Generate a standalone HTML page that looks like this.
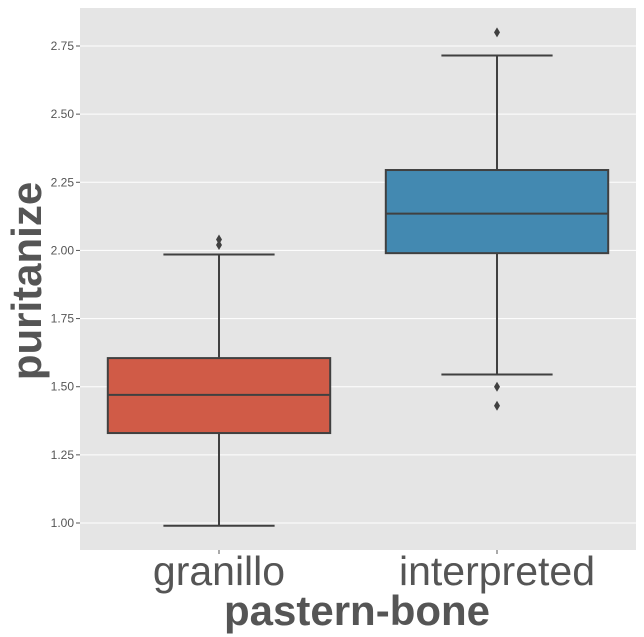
<!DOCTYPE html>
<html><head><meta charset="utf-8"><style>
html,body{margin:0;padding:0;background:#fff;}
svg{display:block;font-family:"Liberation Sans",sans-serif;}
</style></head><body>
<svg id="chart" width="644" height="637">
<rect x="80" y="8" width="556" height="542" fill="#e5e5e5"/>
<g id="grid"></g><g id="marks"></g><g id="axes"></g>
<text x="357" y="625" text-anchor="middle" font-size="42" font-weight="bold" fill="#555">pastern-bone</text>
<text transform="translate(41,281) rotate(-90)" text-anchor="middle" font-size="42" font-weight="bold" fill="#555">puritanize</text>
</svg>
<script>
const categories = ["granillo", "interpreted"];
const q1 = [1.33, 1.99];
const medians = [1.47, 2.135];
const q3 = [1.605, 2.295];
const whiskLow = [0.99, 1.545];
const whiskHigh = [1.985, 2.715];
const outliers = [[2.02, 2.04], [2.80, 1.50, 1.43]];
const colors = ["#d05b47", "#4389b1"];
const yTicks = [1.00, 1.25, 1.50, 1.75, 2.00, 2.25, 2.50, 2.75];

const NS = "http://www.w3.org/2000/svg";
const plotL = 80, plotR = 636;
function y(v){ return 523 - (v - 1.0) * (477 / 1.75); }
const band = (plotR - plotL) / categories.length;
function xc(i){ return plotL + band * (i + 0.5); }
function mk(tag, attrs, parent){
  const e = document.createElementNS(NS, tag);
  for (const k in attrs) e.setAttribute(k, attrs[k]);
  parent.appendChild(e); return e;
}
const grid = document.getElementById("grid"), marks = document.getElementById("marks"), axes = document.getElementById("axes");
yTicks.forEach(t => {
  const gl = mk("line", {x1: plotL, x2: plotR, y1: y(t), y2: y(t), stroke: "#fff", "stroke-width": 1}, grid);
  
  
  const tk = mk("line", {x1: plotL - 4, x2: plotL, y1: y(t), y2: y(t), stroke: "#555"}, axes);
  
  
  const tx = mk("text", {x: plotL - 6, y: y(t) + 4, "text-anchor": "end", "font-size": 12, fill: "#555"}, axes);
  tx.textContent = t.toFixed(2);
  
  
});
const lc = "#404040", lw = 2;
categories.forEach((c, i) => {
  const cx = xc(i), bw = band * 0.8, cw = bw / 2;
  const g = mk("g", {}, marks);
  
  
  mk("line", {x1: cx, x2: cx, y1: y(q1[i]), y2: y(whiskLow[i]), stroke: lc, "stroke-width": lw}, g);
  mk("line", {x1: cx, x2: cx, y1: y(q3[i]), y2: y(whiskHigh[i]), stroke: lc, "stroke-width": lw}, g);
  mk("line", {x1: cx - cw/2, x2: cx + cw/2, y1: y(whiskLow[i]), y2: y(whiskLow[i]), stroke: lc, "stroke-width": lw}, g);
  mk("line", {x1: cx - cw/2, x2: cx + cw/2, y1: y(whiskHigh[i]), y2: y(whiskHigh[i]), stroke: lc, "stroke-width": lw}, g);
  mk("rect", {x: cx - bw/2, y: y(q3[i]), width: bw, height: y(q1[i]) - y(q3[i]), fill: colors[i], stroke: lc, "stroke-width": lw}, g);
  mk("line", {x1: cx - bw/2, x2: cx + bw/2, y1: y(medians[i]), y2: y(medians[i]), stroke: lc, "stroke-width": lw}, g);
  outliers[i].forEach(o => {
    const d = mk("path", {d: `M${cx},${y(o)-5} L${cx+3},${y(o)} L${cx},${y(o)+5} L${cx-3},${y(o)} Z`, fill: lc}, g);
    
    
  });
  const tk = mk("line", {x1: cx, x2: cx, y1: 550, y2: 554, stroke: "#555"}, axes);
  
  
  const tx = mk("text", {x: cx, y: 585, "text-anchor": "middle", "font-size": 41, fill: "#555"}, axes);
  tx.textContent = c;
  
  
});
</script>
</body></html>
